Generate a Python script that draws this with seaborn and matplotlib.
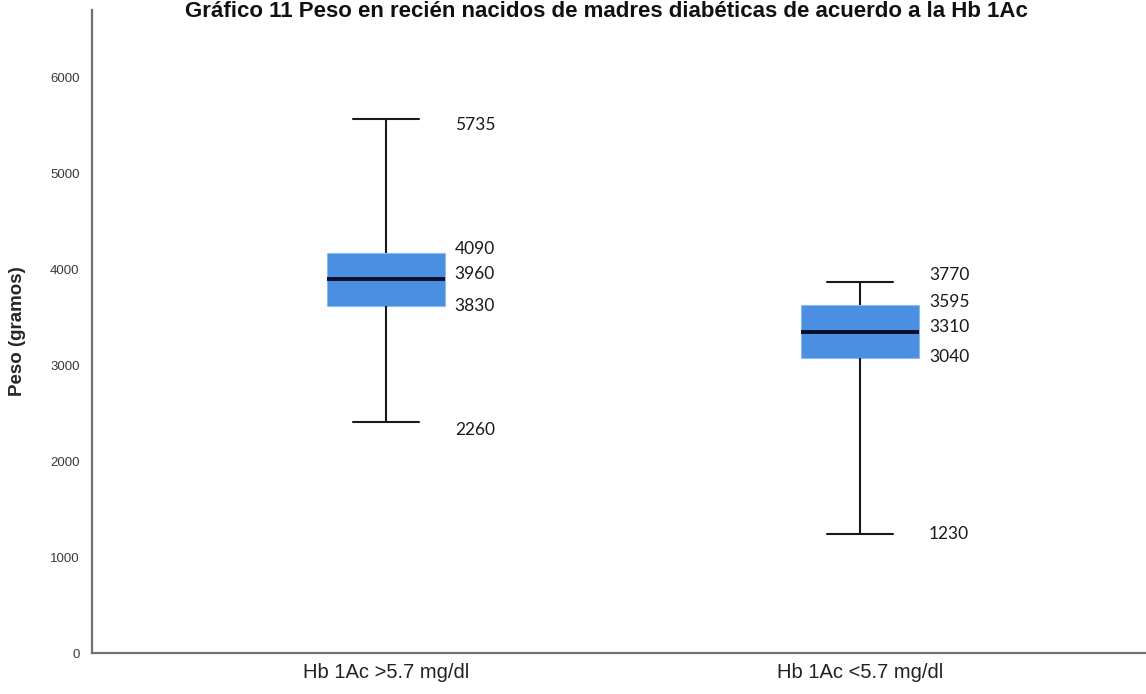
import numpy as np
import pandas as pd
import seaborn as sns
import matplotlib.pyplot as plt

# Five-number summaries (min, Q1, median, Q3, max)
groups = ["Hb 1Ac >5.7 mg/dl", "Hb 1Ac <5.7 mg/dl"]
peso_alta = [2406, 3615, 3896, 4167, 5562]
peso_baja = [1240, 3073, 3344, 3625, 3865]

# Numbers printed next to each box, same order as the summaries
labels_alta = ["2260", "3830", "3960", "4090", "5735"]
labels_baja = ["1230", "3040", "3310", "3595", "3770"]

title = "Gráfico 11 Peso en recién nacidos de madres diabéticas de acuerdo a la Hb 1Ac"
y_label = "Peso (gramos)"
y_ticks = [0, 1000, 2000, 3000, 4000, 5000, 6000]

# Build the long table for seaborn
df = pd.DataFrame({
    "grupo": [groups[0]] * len(peso_alta) + [groups[1]] * len(peso_baja),
    "peso": peso_alta + peso_baja,
})

sns.set_theme(style="white")
plt.rcParams["font.family"] = ["Liberation Sans", "DejaVu Sans"]

fig = plt.figure(figsize=(11.46, 6.94), dpi=100)
ax = fig.add_axes([0.0803, 0.059, 0.9197, 0.9266])

# Whiskers to min/max so the drawn marks are exactly the five-number summary
sns.boxplot(
    data=df, x="grupo", y="peso", ax=ax,
    order=groups, whis=(0, 100), width=0.25,
    color="#4a8fe1", saturation=1, fliersize=0,
    boxprops={"edgecolor": "#8fb8ea", "linewidth": 0.8},
    medianprops={"color": "#0b0b2a", "linewidth": 2.8},
    whiskerprops={"color": "#1a1a1a", "linewidth": 1.5},
    capprops={"color": "#1a1a1a", "linewidth": 1.5},
    capwidths=0.14,
)

# Value labels beside the boxes (small vertical nudges in points, as in the original)
nudges_alta = [-6, 0, 4, 3, -4]
nudges_baja = [0, 1, 4, 2, 5]
for i, (vals, labs, nudges) in enumerate([(peso_alta, labels_alta, nudges_alta),
                                          (peso_baja, labels_baja, nudges_baja)]):
    for v, lab, dy in zip(vals, labs, nudges):
        ax.annotate(lab, xy=(i + 0.145, v), xytext=(0, dy), textcoords="offset points",
                    ha="left", va="center", fontsize=12.5, color="#1a1a1a",
                    family=["Lato", "DejaVu Sans"])

ax.set_ylim(0, 6700)
ax.set_xlim(-0.62, 1.603)
ax.set_yticks(y_ticks)
ax.set_yticklabels([str(t) for t in y_ticks], fontsize=9.5, color="#3a3a3a")
ax.set_xticks([0, 1])
ax.set_xticklabels(groups, fontsize=14.5, color="#222222")
ax.tick_params(axis="y", length=0, pad=9)
ax.tick_params(axis="x", length=0, pad=7)
ax.set_xlabel("")
ax.set_ylabel(y_label, fontsize=13.5, fontweight="bold", labelpad=17)

for side in ["top", "right"]:
    ax.spines[side].set_visible(False)
for side in ["left", "bottom"]:
    ax.spines[side].set_color("#707070")
    ax.spines[side].set_linewidth(1.6)

# Title squeezed into the top strip above the plot
fig.text(0.529, 1 - 1 / 694, title, ha="center", va="top",
         fontsize=16, fontweight="bold", color="#111111")

fig.savefig("out.png", dpi=100)
